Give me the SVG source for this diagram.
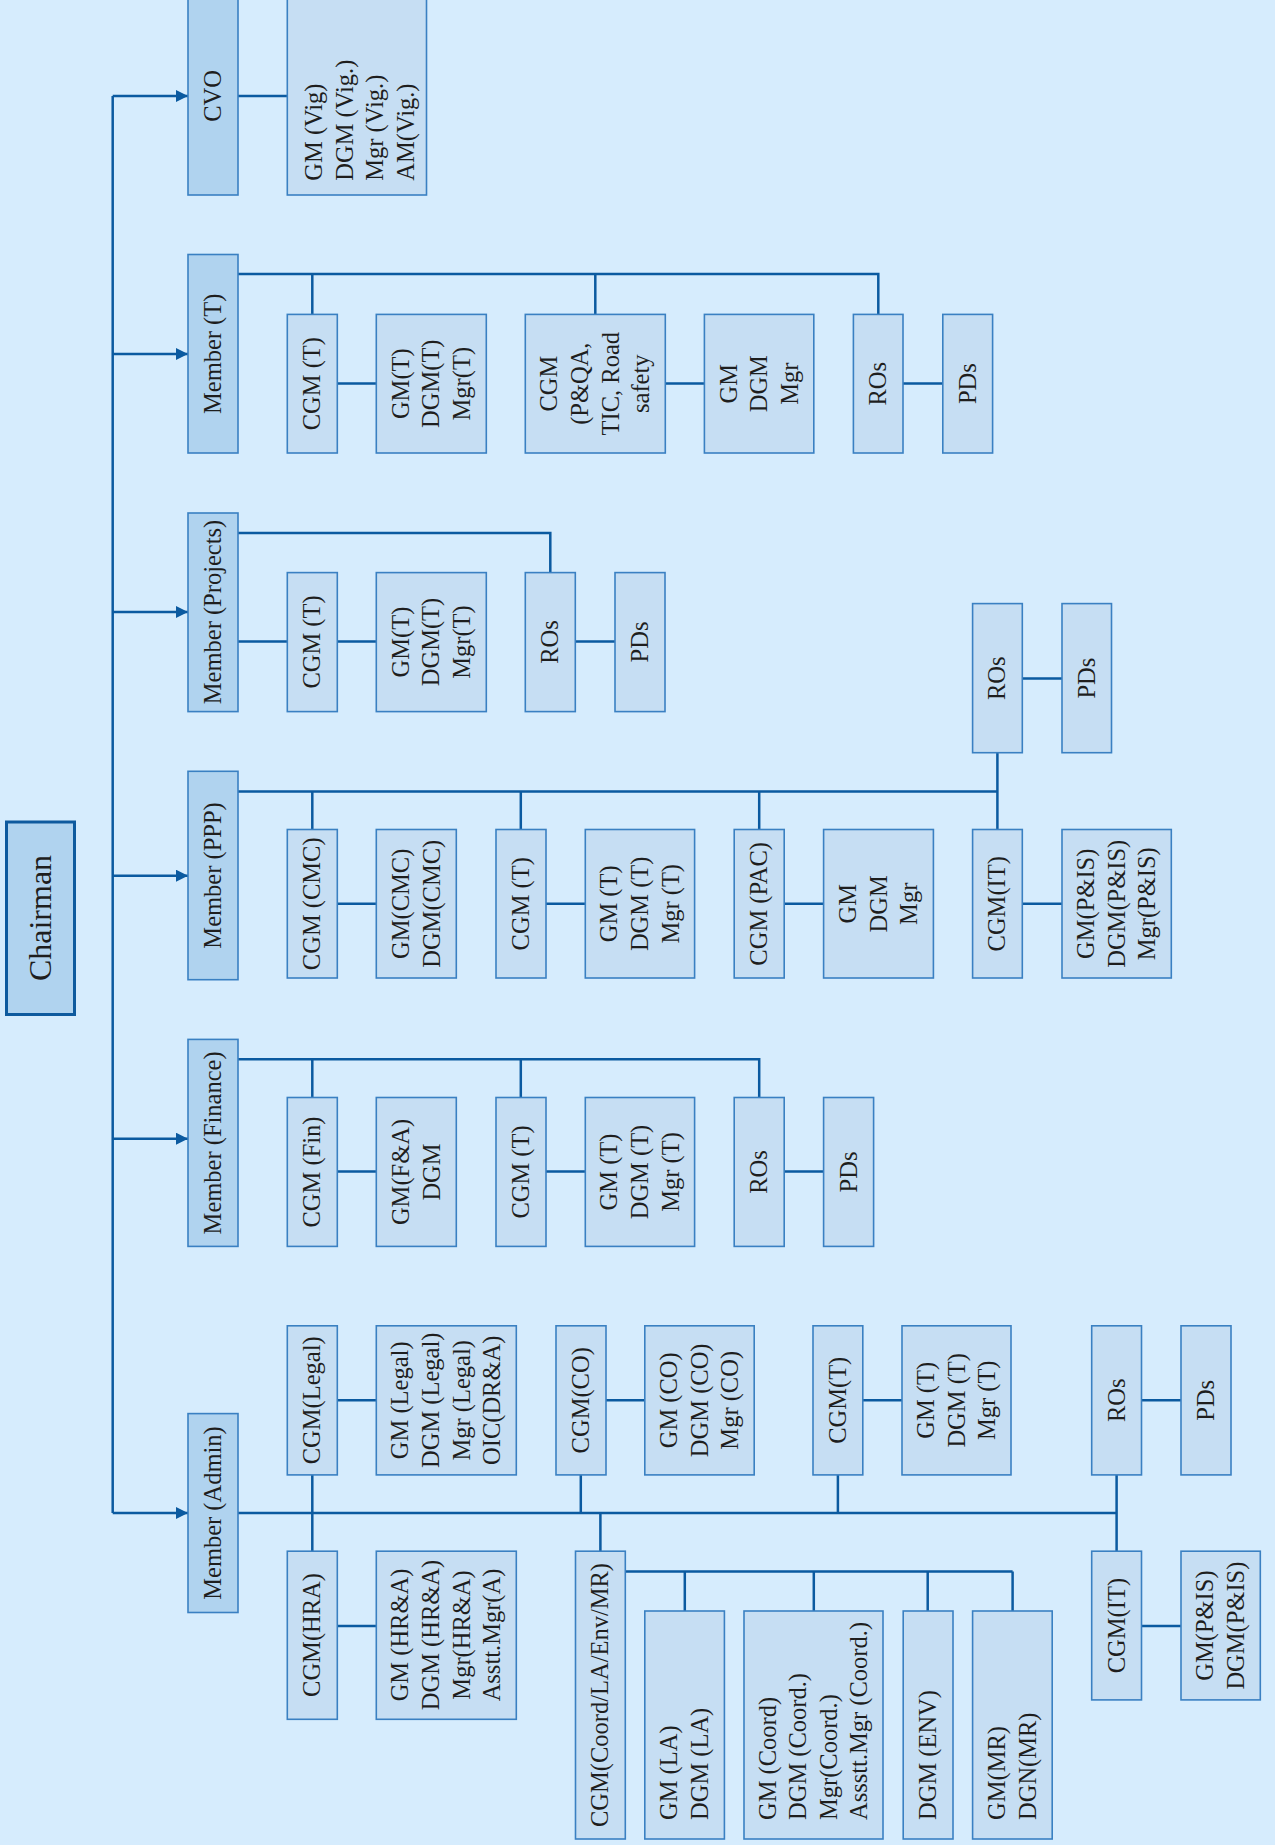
<svg xmlns="http://www.w3.org/2000/svg" width="1275" height="1845" viewBox="0 0 1275 1845">
<defs>
<style>
.m{fill:#b0d3ef;stroke:#3a80c2;stroke-width:1.6}
.c{fill:#c6def3;stroke:#3a80c2;stroke-width:1.6}
.ch{fill:#b0d3ef;stroke:#0e5a9e;stroke-width:3}
.t{font-family:"Liberation Serif","Times New Roman",serif;font-size:24.5px;fill:#1e1e1e;text-anchor:middle}
.s{text-anchor:start}
.big{font-size:32px}
.ln{fill:none;stroke:#0b5aa0;stroke-width:2.5}
</style>
<marker id="arr" markerUnits="userSpaceOnUse" markerWidth="13" markerHeight="13" refX="12" refY="6" orient="auto">
<path d="M0,0 L12,6 L0,12 z" fill="#0b5aa0"/>
</marker>
</defs>
<rect x="0" y="0" width="1275" height="1845" fill="#d6ecfd"/>

<g id="connectors">
<path class="ln" d="M112.7,96 V1513"/>
<path class="ln" marker-end="url(#arr)" d="M112.7,96 H188"/>
<path class="ln" marker-end="url(#arr)" d="M112.7,354 H188"/>
<path class="ln" marker-end="url(#arr)" d="M112.7,612 H188"/>
<path class="ln" marker-end="url(#arr)" d="M112.7,875.7 H188"/>
<path class="ln" marker-end="url(#arr)" d="M112.7,1138.7 H188"/>
<path class="ln" marker-end="url(#arr)" d="M112.7,1513 H188"/>
<path class="ln" d="M238,96 H287.3"/>
<path class="ln" d="M238,274 H878.3 V314.4 M312.3,274 V314.4 M595.3,274 V314.4 M337.3,383.6 H376.3 M665.3,383.6 H704.4 M903,383.6 H942.8"/>
<path class="ln" d="M238,533 H550.3 V572.6 M238,641.6 H287.3 M337.3,641.6 H376.3 M575.3,641.6 H615"/>
<path class="ln" d="M238,791.5 H997.4 M312.3,791.5 V829.5 M520.8,791.5 V829.5 M759.2,791.5 V829.5 M997.4,752.7 V829.5 M1022.3,678.4 H1062 M337.3,903.8 H376.3 M546,903.8 H585.3 M784.2,903.8 H823.6 M1022.3,903.8 H1062"/>
<path class="ln" d="M238,1059.2 H759.2 V1097.5 M312.3,1059.2 V1097.5 M520.8,1059.2 V1097.5 M337.3,1171.5 H376.3 M546,1171.5 H585.3 M784.2,1171.5 H823.6"/>
<path class="ln" d="M238,1513 H1116.6 M312.3,1474.9 V1551.2 M580.8,1474.9 V1513 M600.4,1513 V1551.2 M837.9,1474.9 V1513 M1116.6,1474.9 V1551.2 M337.3,1400.2 H376.3 M606,1400.2 H644.8 M862.8,1400.2 H902 M1141.5,1400.2 H1181 M337.3,1626 H376.3 M1141.5,1626 H1181"/>
<path class="ln" d="M625.3,1571.4 H1012.6 M684.8,1571.4 V1611 M813.8,1571.4 V1611 M927.7,1571.4 V1611 M1012.6,1571.4 V1611"/>
</g>

<g id="chairman"><rect class="ch" x="6.5" y="822" width="68" height="192.5"/><text class="t big" transform="translate(40.6,918) rotate(-90)"><tspan x="0" y="10.5">Chairman</tspan></text></g>

<g id="cvo"><rect class="m" x="188" y="-3" width="50" height="198"/><text class="t" transform="translate(213,96) rotate(-90)"><tspan x="0" y="8">CVO</tspan></text></g>
<g id="cvo-vig"><rect class="c" x="287.3" y="-3" width="139.2" height="198"/><text class="t s" transform="translate(357,180.7) rotate(-90)"><tspan x="0" y="-35">GM (Vig)</tspan><tspan x="0" y="-4.4">DGM (Vig.)</tspan><tspan x="0" y="26.2">Mgr (Vig.)</tspan><tspan x="0" y="56.8">AM(Vig.)</tspan></text></g>

<g id="member-t"><rect class="m" x="188" y="254.5" width="50" height="198.5"/><text class="t" transform="translate(213,353.8) rotate(-90)"><tspan x="0" y="8">Member (T)</tspan></text></g>
<g id="mt-cgm-t"><rect class="c" x="287.3" y="314.4" width="50" height="138.6"/><text class="t" transform="translate(312.3,383.7) rotate(-90)"><tspan x="0" y="8">CGM (T)</tspan></text></g>
<g id="mt-gm-t"><rect class="c" x="376.3" y="314.4" width="110" height="138.6"/><text class="t" transform="translate(431.3,383.7) rotate(-90)"><tspan x="0" y="-22.6">GM(T)</tspan><tspan x="0" y="8">DGM(T)</tspan><tspan x="0" y="38.6">Mgr(T)</tspan></text></g>
<g id="mt-cgm-pqa"><rect class="c" x="525.3" y="314.4" width="140" height="138.6"/><text class="t" transform="translate(595.3,383.7) rotate(-90)"><tspan x="0" y="-37.9">CGM</tspan><tspan x="0" y="-7.3">(P&amp;QA,</tspan><tspan x="0" y="23.3">TIC, Road</tspan><tspan x="0" y="53.9">safety</tspan></text></g>
<g id="mt-gm"><rect class="c" x="704.4" y="314.4" width="109.4" height="138.6"/><text class="t" transform="translate(759.1,383.7) rotate(-90)"><tspan x="0" y="-22.6">GM</tspan><tspan x="0" y="8">DGM</tspan><tspan x="0" y="38.6">Mgr</tspan></text></g>
<g id="mt-ros"><rect class="c" x="853.4" y="314.4" width="49.6" height="138.6"/><text class="t" transform="translate(878.2,383.7) rotate(-90)"><tspan x="0" y="8">ROs</tspan></text></g>
<g id="mt-pds"><rect class="c" x="942.8" y="314.4" width="49.8" height="138.6"/><text class="t" transform="translate(967.7,383.7) rotate(-90)"><tspan x="0" y="8">PDs</tspan></text></g>

<g id="member-projects"><rect class="m" x="188" y="513" width="50" height="198.6"/><text class="t" transform="translate(213,612) rotate(-90)"><tspan x="0" y="8">Member (Projects)</tspan></text></g>
<g id="mp-cgm-t"><rect class="c" x="287.3" y="572.6" width="50" height="139"/><text class="t" transform="translate(312.3,642) rotate(-90)"><tspan x="0" y="8">CGM (T)</tspan></text></g>
<g id="mp-gm-t"><rect class="c" x="376.3" y="572.6" width="110" height="139"/><text class="t" transform="translate(431.3,642) rotate(-90)"><tspan x="0" y="-22.6">GM(T)</tspan><tspan x="0" y="8">DGM(T)</tspan><tspan x="0" y="38.6">Mgr(T)</tspan></text></g>
<g id="mp-ros"><rect class="c" x="525.3" y="572.6" width="50" height="139"/><text class="t" transform="translate(550.3,642) rotate(-90)"><tspan x="0" y="8">ROs</tspan></text></g>
<g id="mp-pds"><rect class="c" x="615" y="572.6" width="50" height="139"/><text class="t" transform="translate(640,642) rotate(-90)"><tspan x="0" y="8">PDs</tspan></text></g>

<g id="member-ppp"><rect class="m" x="188" y="771.3" width="50" height="208.4"/><text class="t" transform="translate(213,875.5) rotate(-90)"><tspan x="0" y="8">Member (PPP)</tspan></text></g>
<g id="ppp-ros"><rect class="c" x="972.6" y="603.6" width="49.7" height="149.1"/><text class="t" transform="translate(997.45,678.2) rotate(-90)"><tspan x="0" y="8">ROs</tspan></text></g>
<g id="ppp-pds"><rect class="c" x="1062" y="603.6" width="49.5" height="149.1"/><text class="t" transform="translate(1086.75,678.2) rotate(-90)"><tspan x="0" y="8">PDs</tspan></text></g>
<g id="ppp-cgm-cmc"><rect class="c" x="287.3" y="829.5" width="50" height="148.5"/><text class="t" transform="translate(312.3,903.8) rotate(-90)"><tspan x="0" y="8">CGM (CMC)</tspan></text></g>
<g id="ppp-gm-cmc"><rect class="c" x="376.3" y="829.5" width="80" height="148.5"/><text class="t" transform="translate(416.3,903.8) rotate(-90)"><tspan x="0" y="-7.3">GM(CMC)</tspan><tspan x="0" y="23.3">DGM(CMC)</tspan></text></g>
<g id="ppp-cgm-t"><rect class="c" x="496" y="829.5" width="50" height="148.5"/><text class="t" transform="translate(521,903.8) rotate(-90)"><tspan x="0" y="8">CGM (T)</tspan></text></g>
<g id="ppp-gm-t"><rect class="c" x="585.3" y="829.5" width="109.3" height="148.5"/><text class="t" transform="translate(640,903.8) rotate(-90)"><tspan x="0" y="-22.6">GM (T)</tspan><tspan x="0" y="8">DGM (T)</tspan><tspan x="0" y="38.6">Mgr (T)</tspan></text></g>
<g id="ppp-cgm-pac"><rect class="c" x="734.2" y="829.5" width="50" height="148.5"/><text class="t" transform="translate(759.2,903.8) rotate(-90)"><tspan x="0" y="8">CGM (PAC)</tspan></text></g>
<g id="ppp-gm"><rect class="c" x="823.6" y="829.5" width="109.8" height="148.5"/><text class="t" transform="translate(878.5,903.8) rotate(-90)"><tspan x="0" y="-22.6">GM</tspan><tspan x="0" y="8">DGM</tspan><tspan x="0" y="38.6">Mgr</tspan></text></g>
<g id="ppp-cgm-it"><rect class="c" x="972.6" y="829.5" width="49.7" height="148.5"/><text class="t" transform="translate(997.45,903.8) rotate(-90)"><tspan x="0" y="8">CGM(IT)</tspan></text></g>
<g id="ppp-gm-pis"><rect class="c" x="1062" y="829.5" width="109.3" height="148.5"/><text class="t" transform="translate(1116.65,903.8) rotate(-90)"><tspan x="0" y="-22.6">GM(P&amp;IS)</tspan><tspan x="0" y="8">DGM(P&amp;IS)</tspan><tspan x="0" y="38.6">Mgr(P&amp;IS)</tspan></text></g>

<g id="member-finance"><rect class="m" x="188" y="1039.4" width="50" height="207"/><text class="t" transform="translate(213,1142.9) rotate(-90)"><tspan x="0" y="8">Member (Finance)</tspan></text></g>
<g id="fin-cgm-fin"><rect class="c" x="287.3" y="1097.5" width="50" height="148.9"/><text class="t" transform="translate(312.3,1172) rotate(-90)"><tspan x="0" y="8">CGM (Fin)</tspan></text></g>
<g id="fin-gm-fa"><rect class="c" x="376.3" y="1097.5" width="80" height="148.9"/><text class="t" transform="translate(416.3,1172) rotate(-90)"><tspan x="0" y="-7.3">GM(F&amp;A)</tspan><tspan x="0" y="23.3">DGM</tspan></text></g>
<g id="fin-cgm-t"><rect class="c" x="496" y="1097.5" width="50" height="148.9"/><text class="t" transform="translate(521,1172) rotate(-90)"><tspan x="0" y="8">CGM (T)</tspan></text></g>
<g id="fin-gm-t"><rect class="c" x="585.3" y="1097.5" width="109.3" height="148.9"/><text class="t" transform="translate(640,1172) rotate(-90)"><tspan x="0" y="-22.6">GM (T)</tspan><tspan x="0" y="8">DGM (T)</tspan><tspan x="0" y="38.6">Mgr (T)</tspan></text></g>
<g id="fin-ros"><rect class="c" x="734.2" y="1097.5" width="50" height="148.9"/><text class="t" transform="translate(759.2,1172) rotate(-90)"><tspan x="0" y="8">ROs</tspan></text></g>
<g id="fin-pds"><rect class="c" x="823.6" y="1097.5" width="50" height="148.9"/><text class="t" transform="translate(848.6,1172) rotate(-90)"><tspan x="0" y="8">PDs</tspan></text></g>

<g id="member-admin"><rect class="m" x="188" y="1413.6" width="50" height="198.9"/><text class="t" transform="translate(213,1513) rotate(-90)"><tspan x="0" y="8">Member (Admin)</tspan></text></g>
<g id="ad-cgm-legal"><rect class="c" x="287.3" y="1325.8" width="50" height="149.1"/><text class="t" transform="translate(312.3,1400.3) rotate(-90)"><tspan x="0" y="8">CGM(Legal)</tspan></text></g>
<g id="ad-gm-legal"><rect class="c" x="376.3" y="1325.8" width="140" height="149.1"/><text class="t" transform="translate(446.3,1400.3) rotate(-90)"><tspan x="0" y="-37.9">GM (Legal)</tspan><tspan x="0" y="-7.3">DGM (Legal)</tspan><tspan x="0" y="23.3">Mgr (Legal)</tspan><tspan x="0" y="53.9">OIC(DR&amp;A)</tspan></text></g>
<g id="ad-cgm-co"><rect class="c" x="556" y="1325.8" width="50" height="149.1"/><text class="t" transform="translate(581,1400.3) rotate(-90)"><tspan x="0" y="8">CGM(CO)</tspan></text></g>
<g id="ad-gm-co"><rect class="c" x="644.8" y="1325.8" width="109.4" height="149.1"/><text class="t" transform="translate(699.5,1400.3) rotate(-90)"><tspan x="0" y="-22.6">GM (CO)</tspan><tspan x="0" y="8">DGM (CO)</tspan><tspan x="0" y="38.6">Mgr (CO)</tspan></text></g>
<g id="ad-cgm-t"><rect class="c" x="813" y="1325.8" width="49.8" height="149.1"/><text class="t" transform="translate(837.9,1400.3) rotate(-90)"><tspan x="0" y="8">CGM(T)</tspan></text></g>
<g id="ad-gm-t"><rect class="c" x="902" y="1325.8" width="109" height="149.1"/><text class="t" transform="translate(956.5,1400.3) rotate(-90)"><tspan x="0" y="-22.6">GM (T)</tspan><tspan x="0" y="8">DGM (T)</tspan><tspan x="0" y="38.6">Mgr (T)</tspan></text></g>
<g id="ad-ros"><rect class="c" x="1091.7" y="1325.8" width="49.8" height="149.1"/><text class="t" transform="translate(1116.6,1400.3) rotate(-90)"><tspan x="0" y="8">ROs</tspan></text></g>
<g id="ad-pds"><rect class="c" x="1181" y="1325.8" width="50" height="149.1"/><text class="t" transform="translate(1206,1400.3) rotate(-90)"><tspan x="0" y="8">PDs</tspan></text></g>
<g id="ad-cgm-hra"><rect class="c" x="287.3" y="1551.2" width="50" height="168.1"/><text class="t" transform="translate(312.3,1635) rotate(-90)"><tspan x="0" y="8">CGM(HRA)</tspan></text></g>
<g id="ad-gm-hra"><rect class="c" x="376.3" y="1551.2" width="140" height="168.1"/><text class="t" transform="translate(446.3,1635) rotate(-90)"><tspan x="0" y="-37.9">GM (HR&amp;A)</tspan><tspan x="0" y="-7.3">DGM (HR&amp;A)</tspan><tspan x="0" y="23.3">Mgr(HR&amp;A)</tspan><tspan x="0" y="53.9">Asstt.Mgr(A)</tspan></text></g>
<g id="ad-cgm-coord"><rect class="c" x="575.5" y="1551.2" width="49.8" height="287.8"/><text class="t" transform="translate(600.4,1695) rotate(-90)"><tspan x="0" y="8">CGM(Coord/LA/Env/MR)</tspan></text></g>
<g id="ad-gm-la"><rect class="c" x="644.8" y="1611" width="79.6" height="228"/><text class="t s" transform="translate(684.6,1820) rotate(-90)"><tspan x="0" y="-7.3">GM (LA)</tspan><tspan x="0" y="23.3">DGM (LA)</tspan></text></g>
<g id="ad-gm-coord"><rect class="c" x="744" y="1611" width="139" height="228"/><text class="t s" transform="translate(813.5,1820) rotate(-90)"><tspan x="0" y="-37.9">GM (Coord)</tspan><tspan x="0" y="-7.3">DGM (Coord.)</tspan><tspan x="0" y="23.3">Mgr(Coord.)</tspan><tspan x="0" y="53.9">Assstt.Mgr (Coord.)</tspan></text></g>
<g id="ad-dgm-env"><rect class="c" x="903.2" y="1611" width="49.8" height="228"/><text class="t s" transform="translate(928.1,1820) rotate(-90)"><tspan x="0" y="8">DGM (ENV)</tspan></text></g>
<g id="ad-gm-mr"><rect class="c" x="972.6" y="1611" width="79.6" height="228"/><text class="t s" transform="translate(1012.4,1820) rotate(-90)"><tspan x="0" y="-7.3">GM(MR)</tspan><tspan x="0" y="23.3">DGN(MR)</tspan></text></g>
<g id="ad-cgm-it"><rect class="c" x="1091.7" y="1551.2" width="49.8" height="148.7"/><text class="t" transform="translate(1116.6,1625.6) rotate(-90)"><tspan x="0" y="8">CGM(IT)</tspan></text></g>
<g id="ad-gm-pis"><rect class="c" x="1181" y="1551.2" width="79.3" height="148.7"/><text class="t" transform="translate(1220.65,1625.6) rotate(-90)"><tspan x="0" y="-7.3">GM(P&amp;IS)</tspan><tspan x="0" y="23.3">DGM(P&amp;IS)</tspan></text></g>
</svg>
